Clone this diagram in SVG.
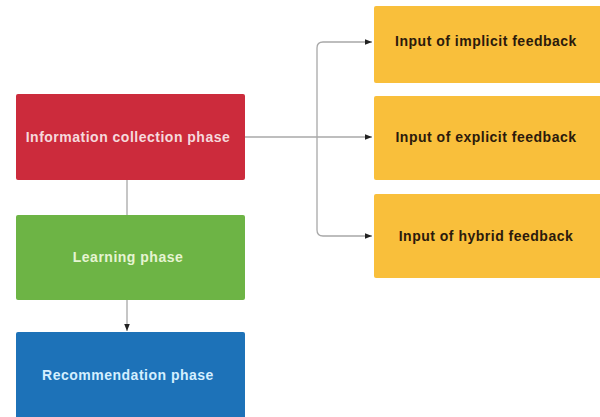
<svg xmlns="http://www.w3.org/2000/svg" width="600" height="417" viewBox="0 0 600 417">
<defs>
<style>
.lbl{font-family:"Liberation Sans",Arial,sans-serif;font-weight:bold;font-size:14px;letter-spacing:0.5px;text-anchor:middle;dominant-baseline:central}
.con{fill:none;stroke:#a8a8a8;stroke-width:1.3}
</style>
<marker id="ah" viewBox="0 0 10 10" refX="10" refY="5" markerWidth="7" markerHeight="7" markerUnits="userSpaceOnUse" orient="auto">
<path d="M0,1 L10,5 L0,9 Z" fill="#222"/>
</marker>
</defs>
<rect width="600" height="417" fill="#fff"/>
<g id="connectors">
<path class="con" d="M127,180 V215"/>
<path class="con" d="M127,300 V331" marker-end="url(#ah)"/>
<path class="con" d="M245,137 H317"/>
<path class="con" d="M317,137 V48 Q317,42 323,42 H372" marker-end="url(#ah)"/>
<path class="con" d="M317,137 V230 Q317,236 323,236 H372" marker-end="url(#ah)"/>
<path class="con" d="M317,137 H372" marker-end="url(#ah)" stroke="#d0d0d0"/>
</g>
<g id="info">
<rect x="16" y="94" width="229" height="86" rx="2" fill="#cc2b3c"/>
<text class="lbl" x="128" y="137" fill="#f6d9dc">Information collection phase</text>
</g>
<g id="learning">
<rect x="16" y="215" width="229" height="85" rx="2" fill="#6db445"/>
<text class="lbl" x="128" y="257" fill="#e6f4d2">Learning phase</text>
</g>
<g id="recommendation">
<rect x="16" y="332" width="229" height="90" rx="2" fill="#1d72b8"/>
<text class="lbl" x="128" y="375" fill="#d4efff">Recommendation phase</text>
</g>
<g id="implicit">
<rect x="374" y="6" width="232" height="77" rx="2" fill="#f9bf3b"/>
<text class="lbl" x="486" y="41" fill="#2b1a0c">Input of implicit feedback</text>
</g>
<g id="explicit">
<rect x="374" y="96" width="232" height="84" rx="2" fill="#f9bf3b"/>
<text class="lbl" x="486" y="137" fill="#2b1a0c">Input of explicit feedback</text>
</g>
<g id="hybrid">
<rect x="374" y="194" width="232" height="84" rx="2" fill="#f9bf3b"/>
<text class="lbl" x="486" y="236" fill="#2b1a0c">Input of hybrid feedback</text>
</g>
</svg>
